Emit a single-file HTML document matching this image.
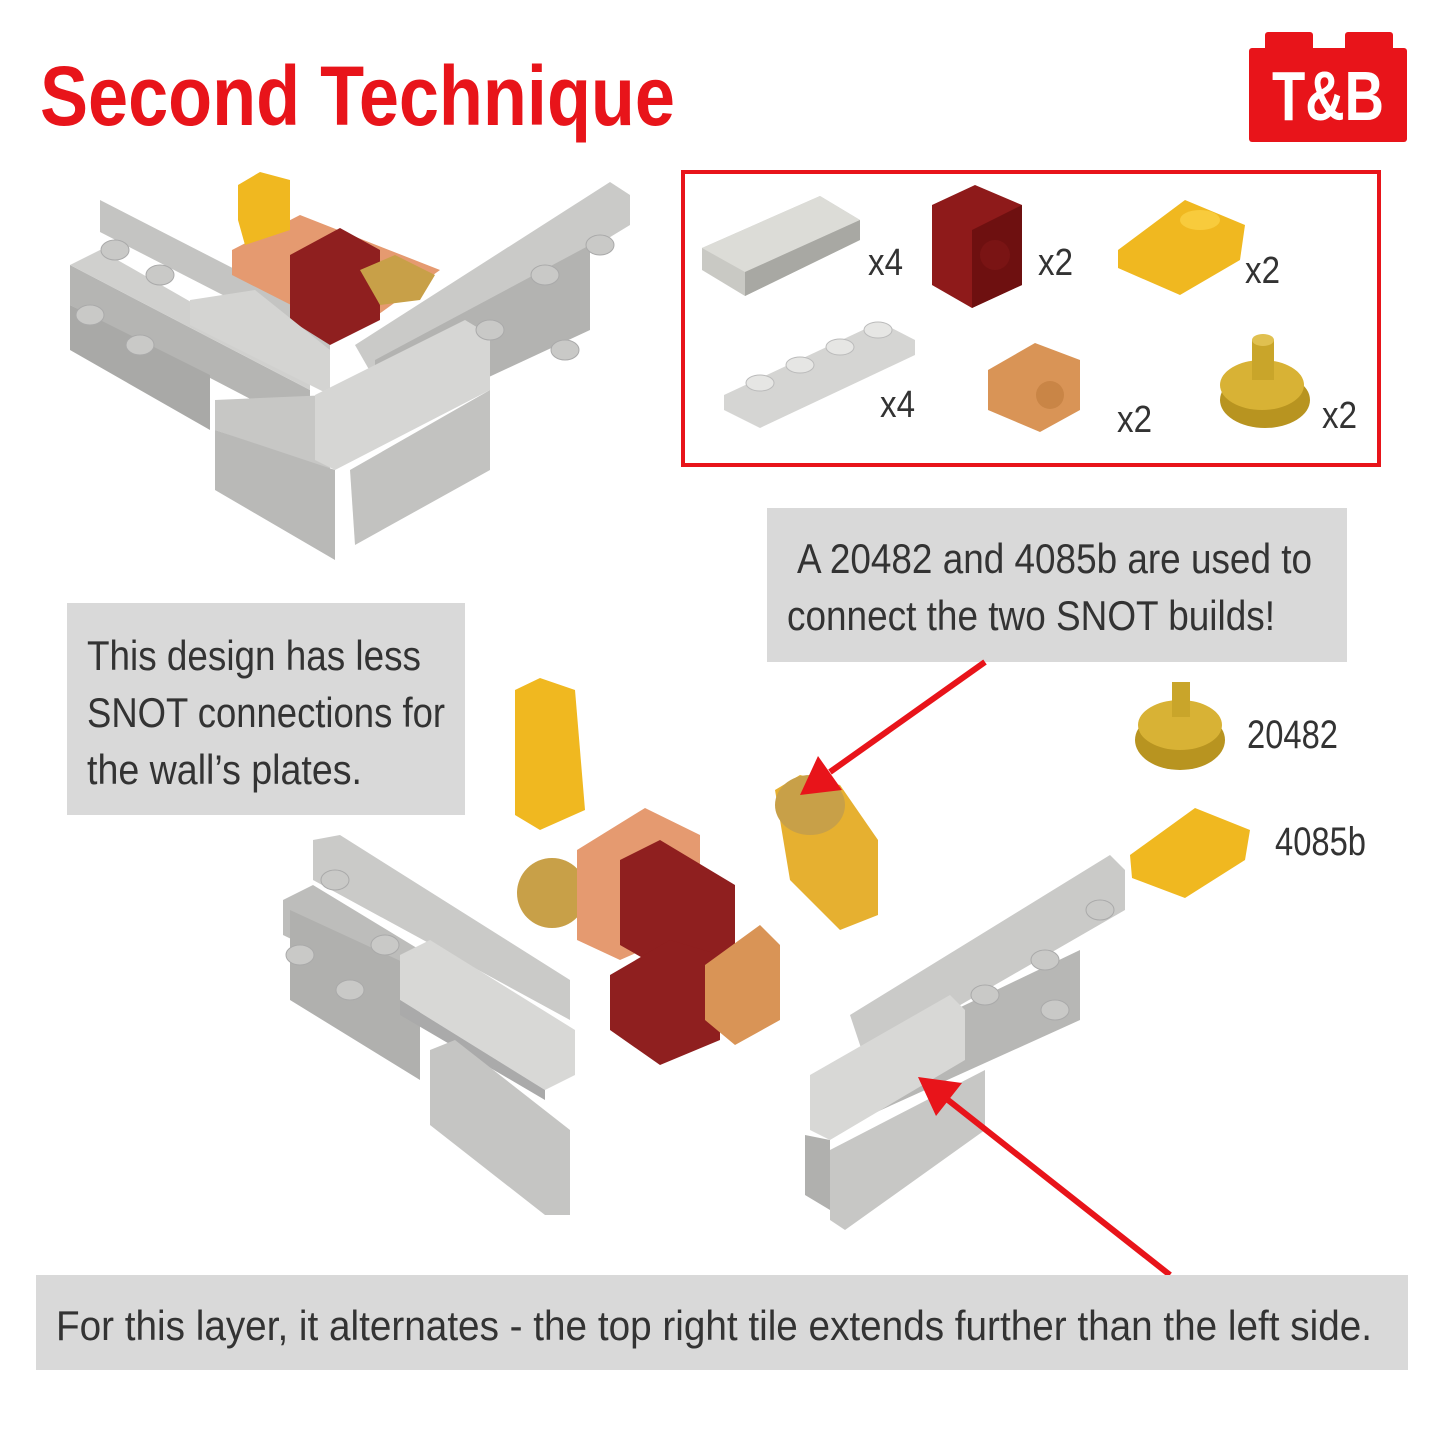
<!DOCTYPE html>
<html><head><meta charset="utf-8"><style>
html,body{margin:0;padding:0;background:#fff}
svg{display:block}
text{font-family:"Liberation Sans Narrow","Liberation Sans",sans-serif}
</style></head><body>
<svg width="1440" height="1440" viewBox="0 0 1440 1440" xmlns="http://www.w3.org/2000/svg">
<rect width="1440" height="1440" fill="#fff"/>
<text x="40" y="125" font-size="84" font-weight="bold" fill="#e8141a" textLength="635" lengthAdjust="spacingAndGlyphs">Second Technique</text>
<rect x="1265" y="32" width="48" height="20" rx="3" fill="#e8141a"/>
<rect x="1345" y="32" width="48" height="20" rx="3" fill="#e8141a"/>
<rect x="1249" y="48" width="158" height="94" rx="3" fill="#e8141a"/>
<text x="1272" y="120" font-size="70" font-weight="bold" fill="#fff" font-family="Liberation Sans" textLength="112" lengthAdjust="spacingAndGlyphs">T&amp;B</text>

<rect x="683" y="172" width="696" height="293" fill="none" stroke="#e8141a" stroke-width="4"/>
<polygon points="702,248 820,196 860,220 860,240 745,296 702,270" fill="#c9c9c4"/>
<polygon points="702,248 820,196 860,220 745,272" fill="#dcdcd7"/>
<polygon points="745,272 860,220 860,240 745,296" fill="#a8a8a3"/>
<polygon points="932,205 975,185 1022,205 1022,285 972,308 932,285" fill="#8e1a1a"/>
<polygon points="972,230 1022,205 1022,285 972,308" fill="#6e1010"/>
<circle cx="995" cy="255" r="15" fill="#7a1414"/>
<polygon points="1118,250 1185,200 1245,225 1240,260 1180,295 1118,268" fill="#f0b820"/>
<ellipse cx="1200" cy="220" rx="20" ry="10" fill="#f8cb3c"/>
<polygon points="724,395 880,322 915,340 915,355 760,428 724,410" fill="#d5d5d3"/>
<g fill="#e6e6e4" stroke="#bbb"><ellipse cx="760" cy="383" rx="14" ry="8"/><ellipse cx="800" cy="365" rx="14" ry="8"/><ellipse cx="840" cy="347" rx="14" ry="8"/><ellipse cx="878" cy="330" rx="14" ry="8"/></g>
<polygon points="988,370 1035,343 1080,360 1080,410 1040,432 988,410" fill="#d99456"/>
<circle cx="1050" cy="395" r="14" fill="#c98546"/>
<ellipse cx="1265" cy="400" rx="45" ry="28" fill="#b89420"/>
<ellipse cx="1262" cy="385" rx="42" ry="25" fill="#d8b235"/>
<rect x="1252" y="340" width="22" height="40" fill="#c9a52a"/>
<ellipse cx="1263" cy="340" rx="11" ry="6" fill="#e0c050"/>
<g font-size="38" fill="#333"><text x="868" y="275" textLength="35" lengthAdjust="spacingAndGlyphs">x4</text><text x="1038" y="275" textLength="35" lengthAdjust="spacingAndGlyphs">x2</text><text x="1245" y="283" textLength="35" lengthAdjust="spacingAndGlyphs">x2</text><text x="880" y="417" textLength="35" lengthAdjust="spacingAndGlyphs">x4</text><text x="1117" y="432" textLength="35" lengthAdjust="spacingAndGlyphs">x2</text><text x="1322" y="428" textLength="35" lengthAdjust="spacingAndGlyphs">x2</text></g>

<g>
<polygon points="100,200 330,318 330,350 100,232" fill="#c4c4c2"/>
<polygon points="70,265 310,390 310,430 70,305" fill="#b5b5b3"/>
<polygon points="70,265 100,250 310,370 310,390" fill="#d0d0ce"/>
<polygon points="70,305 210,375 210,430 70,350" fill="#a9a9a7"/>
<polygon points="355,345 610,182 630,195 630,225 375,380" fill="#cacac8"/>
<polygon points="375,360 590,245 590,330 375,430" fill="#b3b3b1"/>
<polygon points="232,250 300,215 440,270 350,335 232,275" fill="#e59a70"/>
<polygon points="290,255 340,228 380,250 380,320 330,345 290,320" fill="#8f1f1f"/>
<polygon points="238,185 260,172 290,180 290,230 245,245 238,220" fill="#f0b820"/>
<polygon points="360,270 395,255 435,275 420,300 380,305" fill="#c8a048"/>
<polygon points="190,300 255,290 330,350 330,395 190,325" fill="#d4d4d2"/>
<polygon points="215,400 330,395 330,470 215,430" fill="#c7c7c5"/>
<polygon points="315,395 465,320 490,335 490,390 335,470 315,460" fill="#d6d6d4"/>
<polygon points="215,430 335,470 335,560 215,490" fill="#b9b9b7"/>
<polygon points="350,470 490,390 490,470 355,545" fill="#c2c2c0"/>
<g fill="#c9c9c7" stroke="#aaa"><ellipse cx="115" cy="250" rx="14" ry="10"/><ellipse cx="160" cy="275" rx="14" ry="10"/><ellipse cx="90" cy="315" rx="14" ry="10"/><ellipse cx="140" cy="345" rx="14" ry="10"/><ellipse cx="545" cy="275" rx="14" ry="10"/><ellipse cx="600" cy="245" rx="14" ry="10"/><ellipse cx="490" cy="330" rx="14" ry="10"/><ellipse cx="565" cy="350" rx="14" ry="10"/></g>
</g>

<rect x="767" y="508" width="580" height="154" fill="#d9d9d9"/>
<text x="797" y="573" font-size="42" fill="#333" textLength="515" lengthAdjust="spacingAndGlyphs">A 20482 and 4085b are used to</text>
<text x="787" y="630" font-size="42" fill="#333" textLength="488" lengthAdjust="spacingAndGlyphs">connect the two SNOT builds!</text>
<rect x="67" y="603" width="398" height="212" fill="#d9d9d9"/>
<text x="87" y="670" font-size="42" fill="#333" textLength="334" lengthAdjust="spacingAndGlyphs">This design has less</text>
<text x="87" y="727" font-size="42" fill="#333" textLength="358" lengthAdjust="spacingAndGlyphs">SNOT connections for</text>
<text x="87" y="784" font-size="42" fill="#333" textLength="275" lengthAdjust="spacingAndGlyphs">the wall’s plates.</text>

<ellipse cx="1180" cy="740" rx="45" ry="30" fill="#b89420"/>
<ellipse cx="1180" cy="725" rx="42" ry="25" fill="#d8b235"/>
<rect x="1172" y="682" width="18" height="35" fill="#c9a52a"/>
<text x="1247" y="748" font-size="40" fill="#333" textLength="91" lengthAdjust="spacingAndGlyphs">20482</text>
<polygon points="1130,855 1195,808 1250,830 1245,860 1185,898 1132,878" fill="#f0b820"/>
<text x="1275" y="855" font-size="40" fill="#333" textLength="91" lengthAdjust="spacingAndGlyphs">4085b</text>

<polygon points="515,690 540,678 575,690 585,810 540,830 515,815" fill="#f0b820"/>
<polygon points="775,790 800,775 840,785 878,840 878,915 840,930 790,880" fill="#e6b030"/>
<ellipse cx="810" cy="805" rx="35" ry="30" fill="#c8a048"/>
<ellipse cx="552" cy="893" rx="35" ry="35" fill="#c8a048"/>
<polygon points="577,850 645,808 700,835 700,925 620,960 577,940" fill="#e59a70"/>
<polygon points="620,860 660,840 735,885 735,960 690,985 620,945" fill="#8f1f1f"/>
<polygon points="610,975 670,940 720,955 720,1040 660,1065 610,1030" fill="#8f1f1f"/>
<polygon points="705,965 760,925 780,945 780,1020 735,1045 705,1020" fill="#d99456"/>

<polygon points="313,840 340,835 570,980 570,1020 313,880" fill="#cacac8"/>
<polygon points="283,900 313,885 560,1035 560,1070 283,935" fill="#bdbdbb"/>
<polygon points="290,910 420,970 420,1080 290,1000" fill="#b0b0ae"/>
<polygon points="400,955 430,940 575,1030 575,1075 545,1090 400,1000" fill="#d8d8d6"/>
<polygon points="400,1000 545,1090 545,1090 545,1100 400,1015" fill="#aaa"/>
<polygon points="430,1050 455,1040 570,1130 570,1215 545,1215 430,1125" fill="#c5c5c3"/>
<g fill="#c9c9c7" stroke="#aaa"><ellipse cx="335" cy="880" rx="14" ry="10"/><ellipse cx="300" cy="955" rx="14" ry="10"/><ellipse cx="350" cy="990" rx="14" ry="10"/><ellipse cx="385" cy="945" rx="14" ry="10"/></g>
<polygon points="850,1015 1110,855 1125,870 1125,910 865,1060" fill="#cacac8"/>
<polygon points="850,1060 1080,950 1080,1020 870,1115" fill="#b7b7b5"/>
<polygon points="810,1075 950,995 965,1010 965,1060 830,1140 810,1130" fill="#d8d8d6"/>
<polygon points="805,1135 830,1140 830,1210 805,1195" fill="#b0b0ae"/>
<polygon points="830,1150 985,1070 985,1130 845,1230 830,1220" fill="#c7c7c5"/>
<g fill="#c9c9c7" stroke="#aaa"><ellipse cx="1100" cy="910" rx="14" ry="10"/><ellipse cx="1045" cy="960" rx="14" ry="10"/><ellipse cx="985" cy="995" rx="14" ry="10"/><ellipse cx="1055" cy="1010" rx="14" ry="10"/></g>

<line x1="985" y1="662" x2="830" y2="772" stroke="#e8141a" stroke-width="6"/>
<polygon points="800,795 818,756 842,790" fill="#e8141a"/>
<line x1="1170" y1="1275" x2="948" y2="1100" stroke="#e8141a" stroke-width="6"/>
<polygon points="918,1077 962,1083 936,1116" fill="#e8141a"/>

<rect x="36" y="1275" width="1372" height="95" fill="#d9d9d9"/>
<text x="56" y="1340" font-size="42" fill="#333" textLength="1316" lengthAdjust="spacingAndGlyphs">For this layer, it alternates - the top right tile extends further than the left side.</text>
</svg>
</body></html>
